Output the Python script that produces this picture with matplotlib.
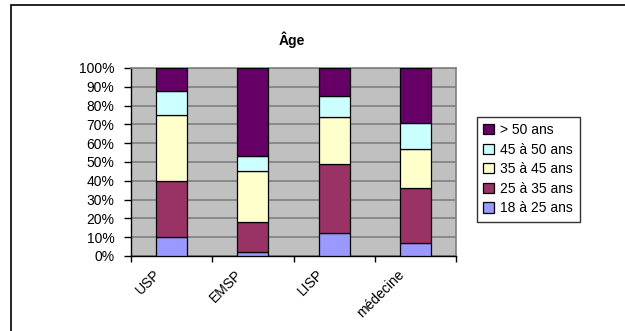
import matplotlib
matplotlib.use("Agg")
import matplotlib.pyplot as plt
from matplotlib.patches import Rectangle
from matplotlib.ticker import MultipleLocator, FuncFormatter
from matplotlib.transforms import ScaledTranslation
import numpy as np

plt.rcParams['font.family'] = ['Liberation Sans', 'DejaVu Sans']

groups = ["USP", "EMSP", "LISP", "médecine"]
tranches = ["18 à 25 ans", "25 à 35 ans", "35 à 45 ans", "45 à 50 ans", "> 50 ans"]
# parts en % par tranche d'âge
p18_25 = [10, 2, 12, 7]
p25_35 = [30, 16, 37, 29]
p35_45 = [35, 27, 25, 21]
p45_50 = [13, 8, 11, 14]
p50 = [12, 47, 15, 29]
colors = ["#9999FF", "#993366", "#FFFFCC", "#CCFFFF", "#660066"]

fig = plt.figure(figsize=(6.25, 3.31), dpi=100)
ax = fig.add_axes([0.2096, 0.2266, 0.52, 0.568])
ax.set_facecolor("#C0C0C0")

x = np.arange(len(groups))
bottom = np.zeros(len(groups))
for vals, c, lab in zip([p18_25, p25_35, p35_45, p45_50, p50], colors, tranches):
    ax.bar(x, vals, 0.38, bottom=bottom, color=c, edgecolor="black",
           linewidth=0.9, label=lab, zorder=3)
    bottom += np.array(vals)

ax.set_xlim(-0.5, len(groups) - 0.5)
ax.set_ylim(0, 100)
ax.yaxis.set_major_locator(MultipleLocator(10))
ax.yaxis.set_major_formatter(FuncFormatter(lambda v, p: f"{int(v)}%"))
ax.grid(axis="y", color="#808080", linewidth=1.2, zorder=1)

ax.set_xticks(x)
ax.set_xticklabels(groups, rotation=45, ha="right", rotation_mode="anchor")
ax.tick_params(axis="x", which="major", length=0, pad=8, labelsize=10)
ax.set_xticks(np.arange(len(groups) + 1) - 0.5, minor=True)
ax.tick_params(axis="x", which="minor", length=4, width=1, color="black")
ax.tick_params(axis="y", length=5, width=1, labelsize=10, pad=7)
shift = ScaledTranslation(-0.18, 0, fig.dpi_scale_trans)
for t in ax.get_xticklabels():
    t.set_transform(t.get_transform() + shift)

for s in ["top", "right"]:
    ax.spines[s].set_color("#808080")
    ax.spines[s].set_linewidth(1.2)
for s in ["left", "bottom"]:
    ax.spines[s].set_color("black")
    ax.spines[s].set_linewidth(1)

fig.text(0.467, 0.88, "Âge", ha="center", va="center", fontsize=10, fontweight="bold")

h, l = ax.get_legend_handles_labels()
leg = fig.legend(h[::-1], l[::-1], loc="upper left", bbox_to_anchor=(0.763, 0.647),
                 fontsize=10, frameon=True, fancybox=False, edgecolor="black",
                 handlelength=0.75, handleheight=0.75, handletextpad=0.5,
                 labelspacing=0.4, borderpad=0.45, borderaxespad=0)
leg.get_frame().set_linewidth(1)

# cadre du graphique
fig.patches.append(Rectangle((0.0176, -0.1), 1.1, 1.085, transform=fig.transFigure,
                             fill=False, edgecolor="black", linewidth=1.2))

fig.savefig("out.png", dpi=100)
